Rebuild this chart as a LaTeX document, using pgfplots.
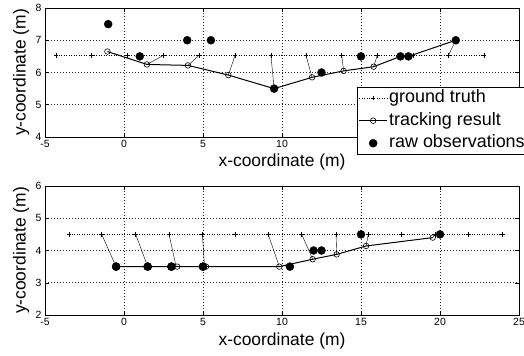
\documentclass[border=0pt]{standalone}
\usepackage{fontspec}
\setmainfont{Liberation Sans}
\usepackage{pgfplots}
\pgfplotsset{compat=1.18}
\pgfplotsset{
  myax/.style={
    scale only axis, width=474bp, height=129bp,
    xmin=-5, xmax=25, xtick={-5,0,5,10,15,20,25},
    grid=major, major grid style={black!85, dash pattern=on 1bp off 2bp, line width=0.6pt},
    tick align=inside, major tick length=4bp,
    tick style={black, line width=0.5pt},
    axis line style={line width=0.6pt},
    /pgf/number format/assume math mode=true,
    tick label style={font=\fontsize{10.5}{12}\selectfont},
    label style={font=\fontsize{17.5}{20}\selectfont},
    xlabel={x-coordinate (m)}, ylabel={y-coordinate (m)},
    ylabel style={at={(axis description cs:-0.0506,0.5)}, anchor=center},
    legend image code/.code={\draw[mark repeat=2,mark phase=2,#1] plot coordinates {(0bp,0bp) (14bp,0bp) (28bp,0bp)};},
  },
  gt/.style={black, dash pattern=on 1bp off 1.5bp, line width=0.9pt, mark=+, mark size=2.3bp, mark options={solid, line width=0.6pt}},
  tr/.style={black, solid, line width=1pt, mark=o, mark size=2.8bp, mark options={solid, fill=white, line width=0.6pt}},
  ob/.style={black, only marks, mark=*, mark size=4bp},
  as/.style={black, solid, line width=0.4pt, forget plot},
}
\begin{document}
\begin{tikzpicture}
\path[use as bounding box] (0,0) rectangle (524bp,356bp);
% ---------- top ----------
\begin{axis}[myax, at={(45bp,219bp)}, anchor=south west,
  ymin=4, ymax=8, ytick={4,5,6,7,8},
  xticklabels={-5,0,5,10,{},{},{}},
  xlabel style={at={(axis description cs:0.5,-0.194)}, anchor=center},
  legend style={at={(axis description cs:0.658,0.388)}, anchor=north west, draw=black, line width=0.5pt, fill=white,
    font=\fontsize{18}{20}\selectfont, inner sep=1.5bp, row sep=3.5bp,
    nodes={inner sep=1.5bp, text height=12.5bp, text depth=3.5bp}},
  legend cell align=left]
\addplot[gt] coordinates {(-4.30,6.53) (-2.04,6.53) (0.23,6.53) (2.49,6.53) (4.75,6.53) (7.03,6.53) (9.30,6.53) (11.52,6.53) (13.78,6.53) (16.03,6.53) (18.30,6.53) (20.53,6.53) (22.78,6.53)};
\addlegendentry{ground truth}
\addplot[as] coordinates {(2.49,6.53) (1.45,6.25)};
\addplot[as] coordinates {(4.75,6.53) (4.05,6.22)};
\addplot[as] coordinates {(7.03,6.53) (6.60,5.92)};
\addplot[as] coordinates {(9.30,6.53) (9.50,5.50)};
\addplot[as] coordinates {(11.52,6.53) (11.90,5.85)};
\addplot[as] coordinates {(13.78,6.53) (13.90,6.05)};
\addplot[as] coordinates {(16.03,6.53) (15.80,6.18)};
\addplot[as] coordinates {(20.53,6.53) (21.00,7.00)};
\addplot[tr] coordinates {(-1.05,6.65) (1.45,6.25) (4.05,6.22) (6.60,5.92) (9.50,5.50) (11.90,5.85) (13.90,6.05) (15.80,6.18) (17.50,6.50) (18.00,6.50) (21.00,7.00)};
\addlegendentry{tracking result}
\addplot[ob] coordinates {(-1,7.5) (1,6.5) (4,7) (5.5,7) (9.5,5.5) (12.5,6) (15,6.5) (17.5,6.5) (18,6.5) (21,7)};
\addlegendentry{raw observations}
\end{axis}
% ---------- bottom ----------
\begin{axis}[myax, at={(45bp,41bp)}, anchor=south west,
  ymin=2, ymax=6, ytick={2,3,4,5,6},
  xlabel style={at={(axis description cs:0.5,-0.2016)}, anchor=center}]
\addplot[gt] coordinates {(-3.48,4.5) (-1.41,4.5) (0.74,4.5) (2.85,4.5) (4.96,4.5) (7.07,4.5) (9.13,4.5) (11.25,4.5) (13.42,4.5) (15.46,4.5) (17.58,4.5) (19.68,4.5) (21.79,4.5) (23.97,4.5)};
\addplot[as] coordinates {(-1.41,4.5) (-0.50,3.5)};
\addplot[as] coordinates {(0.74,4.5) (1.50,3.5)};
\addplot[as] coordinates {(2.85,4.5) (3.30,3.5)};
\addplot[as] coordinates {(4.96,4.5) (5.10,3.5)};
\addplot[as] coordinates {(9.13,4.5) (9.83,3.5)};
\addplot[as] coordinates {(11.25,4.5) (11.94,3.73)};
\addplot[as] coordinates {(13.42,4.5) (13.46,3.88)};
\addplot[as] coordinates {(15.46,4.5) (15.32,4.14)};
\addplot[as] coordinates {(19.68,4.5) (19.54,4.40)};
\addplot[ob] coordinates {(-0.5,3.5) (1.5,3.5) (3,3.5) (5,3.5) (10.5,3.5) (12,4) (12.5,4) (15,4.5) (20,4.5)};
\addplot[tr] coordinates {(-0.50,3.5) (1.50,3.5) (3.37,3.5) (5.19,3.5) (9.83,3.5) (11.94,3.73) (13.46,3.88) (15.32,4.14) (19.54,4.40)};
\addplot[ob] coordinates {(-0.5,3.5) (1.5,3.5) (3,3.5) (5,3.5)};
\end{axis}
\end{tikzpicture}
\end{document}
